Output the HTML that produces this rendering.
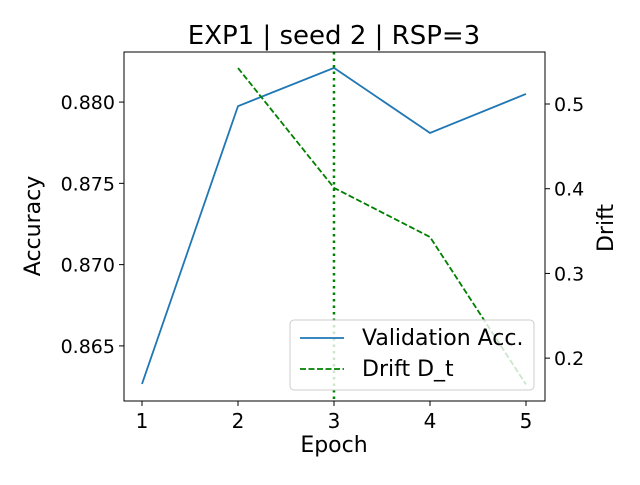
<!DOCTYPE html>
<html><head><meta charset="utf-8"><style>
body{margin:0;background:#fff}
svg{font-family:"DejaVu Sans","Liberation Sans",sans-serif}
</style></head><body>
<svg id="c" width="640" height="480"></svg>
<script>
const epochs=[1,2,3,4,5];
const accValues=[0.86266,0.87975,0.8821,0.8781,0.8805];
const driftEpochs=[2,3,4,5];
const driftValues=[0.5425,0.401,0.343,0.169];
const accTicks=[0.865,0.870,0.875,0.880];
const driftTicks=[0.2,0.3,0.4,0.5];
const markerEpoch=3;
const L=124,R=545,T=52,B=401;
const xs=v=>L+(v-0.8125)/(5.198-0.8125)*(R-L);
const ya=v=>B-(v-0.86161)/(0.88308-0.86161)*(B-T);
const yd=v=>B-(v-0.1494)/(0.5614-0.1494)*(B-T);
const svg=document.getElementById('c');const NS='http://www.w3.org/2000/svg';
function mk(t,a,p){const e=document.createElementNS(NS,t);for(const k in a)e.setAttribute(k,a[k]);(p||svg).appendChild(e);return e;}
let t=mk('text',{x:334,y:44,'text-anchor':'middle','font-size':26});t.textContent='EXP1 | seed 2 | RSP=3';


const ap=mk('polyline',{points:epochs.map((e,i)=>xs(e)+','+ya(accValues[i])).join(' '),fill:'none',stroke:'#1f77b4','stroke-width':1.8});


const dp=mk('polyline',{points:driftEpochs.map((e,i)=>xs(e)+','+yd(driftValues[i])).join(' '),fill:'none',stroke:'green','stroke-width':1.8,'stroke-dasharray':'6,2.5'});


const vl=mk('line',{x1:xs(markerEpoch),x2:xs(markerEpoch),y1:T,y2:B,stroke:'green','stroke-width':2.5,'stroke-dasharray':'2.5,4'});


const fr=mk('rect',{x:L,y:T,width:R-L,height:B-T,fill:'none',stroke:'#000','stroke-width':1});


epochs.forEach(e=>{const x=xs(e);mk('line',{x1:x,x2:x,y1:B,y2:B+5,stroke:'#000'});const l=mk('text',{x:x,y:B+27,'text-anchor':'middle','font-size':20});l.textContent=e;

});
accTicks.forEach(v=>{const y=ya(v);mk('line',{x1:L-5,x2:L,y1:y,y2:y,stroke:'#000'});const l=mk('text',{x:L-9,y:y+7,'text-anchor':'end','font-size':19});l.textContent=v.toFixed(3);

});
driftTicks.forEach(v=>{const y=yd(v);mk('line',{x1:R,x2:R+5,y1:y,y2:y,stroke:'#000'});const l=mk('text',{x:R+9,y:y+7,'font-size':19});l.textContent=v.toFixed(1);

});
t=mk('text',{x:334,y:452,'text-anchor':'middle','font-size':22});t.textContent='Epoch';


t=mk('text',{x:40,y:226,'text-anchor':'middle','font-size':22,transform:'rotate(-90 40 226)'});t.textContent='Accuracy';


t=mk('text',{x:613,y:228,'text-anchor':'middle','font-size':22,transform:'rotate(-90 613 228)'});t.textContent='Drift';


const g=mk('g',{});


mk('rect',{x:290,y:320,width:244,height:70,rx:4,fill:'#fff','fill-opacity':0.8,stroke:'#ccc'},g);
mk('line',{x1:300,x2:344,y1:338,y2:338,stroke:'#1f77b4','stroke-width':1.8},g);
t=mk('text',{x:362,y:345,'font-size':22},g);t.textContent='Validation Acc.';
mk('line',{x1:300,x2:344,y1:369,y2:369,stroke:'green','stroke-width':1.8,'stroke-dasharray':'6,2.5'},g);
t=mk('text',{x:362,y:376,'font-size':22},g);t.textContent='Drift D_t';
</script>
</body></html>
